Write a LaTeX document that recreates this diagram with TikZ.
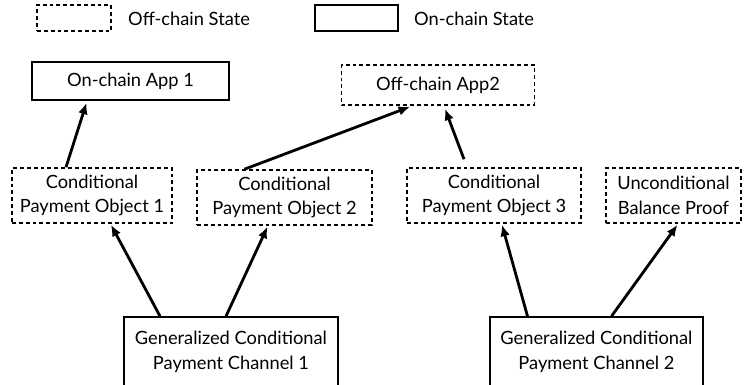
\documentclass[tikz,border=0pt]{standalone}
\usepackage{fontspec}
\setmainfont{Lato}
\usetikzlibrary{arrows.meta}

\begin{document}
\begin{tikzpicture}[x=0.02cm, y=-0.02cm,
	font=\fontsize{10.4}{14}\selectfont,
	offchain/.style={draw, dashed, dash pattern=on 2.2pt off 1.7pt, line width=0.9pt, align=center, inner sep=0pt},
	onchain/.style={draw, line width=0.9pt, align=center, inner sep=0pt},
	link/.style={line width=1.6pt, -{Latex[length=6.5pt, width=5.5pt]}}]
	\useasboundingbox (0, 0) rectangle (745, 385);
	\clip (0, 0) rectangle (745, 385);
	%
	% legend
	\node[offchain, minimum width=74*0.02cm, minimum height=26*0.02cm] (legoff) at (74, 18) {};
	\node[anchor=west] (legofftext) at (122, 19) {Off-chain State};
	\node[onchain, minimum width=83*0.02cm, minimum height=26*0.02cm] (legon) at (356.5, 18) {};
	\node[anchor=west] (legontext) at (408, 19) {On-chain State};
	%
	% apps
	\node[onchain, minimum width=197*0.02cm, minimum height=38*0.02cm] (app1) at (130.5, 81) {On-chain App 1};
	\node[offchain, minimum width=193*0.02cm, minimum height=40*0.02cm] (app2) at (438, 85) {Off-chain App2};
	%
	% payment objects
	\node[offchain, minimum width=160*0.02cm, minimum height=55*0.02cm] (cpo1) at (92, 195.5) {Conditional\\Payment Object 1};
	\node[offchain, minimum width=175*0.02cm, minimum height=55*0.02cm] (cpo2) at (284.5, 197.5) {Conditional\\Payment Object 2};
	\node[offchain, minimum width=174*0.02cm, minimum height=55*0.02cm] (cpo3) at (494, 195.5) {Conditional\\Payment Object 3};
	\node[offchain, minimum width=135*0.02cm, minimum height=55*0.02cm] (ubp) at (673.5, 195.5) {Unconditional\\Balance Proof};
	%
	% channels
	\node[onchain, minimum width=214*0.02cm, minimum height=70*0.02cm] (chan1) at (231, 352) {Generalized Conditional\\Payment Channel 1};
	\node[onchain, minimum width=213*0.02cm, minimum height=70*0.02cm] (chan2) at (596.5, 352) {Generalized Conditional\\Payment Channel 2};
	%
	% arrows
	\draw[link] ([xshift=-26*0.02cm]cpo1.north) -- ([xshift=-44*0.02cm, yshift=-2*0.02cm]app1.south);
	\draw[link] ([xshift=-40*0.02cm]cpo2.north) -- ([xshift=-28*0.02cm, yshift=-1*0.02cm]app2.south);
	\draw[link] ([xshift=-30*0.02cm, yshift=8*0.02cm]cpo3.north) -- ([xshift=7*0.02cm, yshift=-3*0.02cm]app2.south);
	\draw[link] ([xshift=-71*0.02cm]chan1.north) -- ([xshift=19*0.02cm, yshift=-1*0.02cm]cpo1.south);
	\draw[link] ([xshift=-5*0.02cm]chan1.north) -- ([xshift=-17*0.02cm, yshift=-1*0.02cm]cpo2.south);
	\draw[link] ([xshift=-69*0.02cm]chan2.north) -- ([xshift=8*0.02cm, yshift=-1*0.02cm]cpo3.south);
	\draw[link] ([xshift=15*0.02cm]chan2.north) -- ([xshift=4*0.02cm, yshift=-1*0.02cm]ubp.south);
\end{tikzpicture}
\end{document}
